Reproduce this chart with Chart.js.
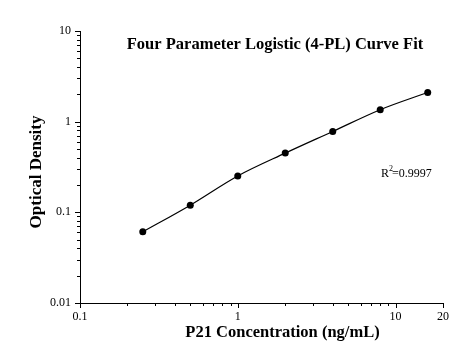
<!DOCTYPE html>
<html>
<head>
<meta charset="utf-8">
<script src="https://cdn.jsdelivr.net/npm/chart.js@4"></script>
<style>
html,body{margin:0;padding:0;background:#fff;}
#c{display:block;}
</style>
</head>
<body>
<canvas id="c" width="466" height="361"></canvas>
<script>
// ---- data ----
const concentrations = [0.25, 0.5, 1, 2, 4, 8, 16];
const opticalDensity = [0.061, 0.12, 0.252, 0.45, 0.78, 1.355, 2.10];
const xTickValues = [0.1,0.2,0.3,0.4,0.5,0.6,0.7,0.8,0.9,1,2,3,4,5,6,7,8,9,10,20];
const xTickLabels = {0.1:'0.1', 1:'1', 10:'10', 20:'20'};
const yTickValues = [0.01,0.02,0.03,0.04,0.05,0.06,0.07,0.08,0.09,0.1,0.2,0.3,0.4,0.5,0.6,0.7,0.8,0.9,1,2,3,4,5,6,7,8,9,10];
const yTickLabels = {0.01:'0.01', 0.1:'0.1', 1:'1', 10:'10'};
const chartTitle = 'Four Parameter Logistic (4-PL) Curve Fit';
const xTitle = 'P21 Concentration (ng/mL)';
const yTitle = 'Optical Density';
const r2Text = '0.9997';

const SERIF = '"Liberation Serif", "DejaVu Serif", serif';

function isMajor(map, v){ return Object.prototype.hasOwnProperty.call(map, v); }

const decorPlugin = {
  id: 'decor',
  afterDraw(chart){
    const ctx = chart.ctx;
    const ca = chart.chartArea;
    ctx.save();
    ctx.strokeStyle = '#000';
    ctx.lineWidth = 1;
    // ticks
    const xs = chart.scales.x, ys = chart.scales.y;
    xs.ticks.forEach(t => {
      const px = Math.round(xs.getPixelForValue(t.value)) + 0.5;
      const len = isMajor(xTickLabels, t.value) ? 5 : 3;
      ctx.beginPath(); ctx.moveTo(px, ca.bottom); ctx.lineTo(px, ca.bottom + len); ctx.stroke();
    });
    ys.ticks.forEach(t => {
      const py = Math.round(ys.getPixelForValue(t.value)) + 0.5;
      const len = isMajor(yTickLabels, t.value) ? 5 : 3;
      ctx.beginPath(); ctx.moveTo(ca.left, py); ctx.lineTo(ca.left - len, py); ctx.stroke();
    });
    ctx.fillStyle = '#000';
    // chart title
    ctx.font = 'bold 16.5px ' + SERIF;
    ctx.textAlign = 'center';
    ctx.textBaseline = 'alphabetic';
    ctx.fillText(chartTitle, 275, 49);
    // x title
    ctx.font = 'bold 16.5px ' + SERIF;
    ctx.fillText(xTitle, 282.5, 337);
    // y title
    ctx.font = 'bold 17px ' + SERIF;
    ctx.save();
    ctx.translate(41, 172);
    ctx.rotate(-Math.PI/2);
    ctx.fillText(yTitle, 0, 0);
    ctx.restore();
    // R^2
    ctx.font = '12px ' + SERIF;
    ctx.textAlign = 'left';
    const rx = 381, ry = 177;
    ctx.fillText('R', rx, ry);
    const rw = ctx.measureText('R').width;
    ctx.font = '8px ' + SERIF;
    ctx.fillText('2', rx + rw, ry - 6);
    const sw = ctx.measureText('2').width;
    ctx.font = '12px ' + SERIF;
    ctx.fillText('=' + r2Text, rx + rw + sw - 1, ry);
    ctx.restore();
  }
};

new Chart(document.getElementById('c'), {
  type: 'line',
  data: {
    datasets: [{
      data: concentrations.map((x, i) => ({x: x, y: opticalDensity[i]})),
      borderColor: '#000',
      backgroundColor: '#000',
      borderWidth: 1.2,
      pointRadius: 3.5,
      pointBackgroundColor: '#000',
      pointBorderWidth: 0,
      cubicInterpolationMode: 'monotone',
      fill: false
    }]
  },
  options: {
    responsive: false,
    animation: false,
    devicePixelRatio: 1,
    layout: { padding: { top: 31, right: 23, left: 0, bottom: 0 } },
    plugins: { legend: { display: false }, tooltip: { enabled: false }, title: { display: false } },
    scales: {
      x: {
        type: 'logarithmic',
        min: 0.1, max: 20,
        afterBuildTicks(scale){ scale.ticks = xTickValues.map(v => ({value: v, major: isMajor(xTickLabels, v)})); },
        afterFit(scale){ scale.height = 58; },
        grid: { display: false, drawTicks: false },
        border: { display: true, color: '#000', width: 1 },
        ticks: {
          autoSkip: false, maxRotation: 0, minRotation: 0, padding: 7,
          color: '#000', font: { family: SERIF, size: 12 },
          callback(value){ return isMajor(xTickLabels, value) ? xTickLabels[value] : ''; }
        }
      },
      y: {
        type: 'logarithmic',
        min: 0.01, max: 10,
        afterBuildTicks(scale){ scale.ticks = yTickValues.map(v => ({value: v, major: isMajor(yTickLabels, v)})); },
        afterFit(scale){ scale.width = 80; },
        grid: { display: false, drawTicks: false },
        border: { display: true, color: '#000', width: 1 },
        ticks: {
          autoSkip: false, padding: 9,
          color: '#000', font: { family: SERIF, size: 12 },
          callback(value){ return isMajor(yTickLabels, value) ? yTickLabels[value] : ''; }
        }
      }
    }
  },
  plugins: [decorPlugin]
});
</script>
</body>
</html>
